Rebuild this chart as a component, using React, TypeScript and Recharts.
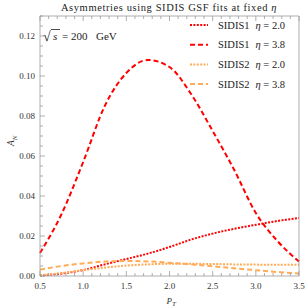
import React from "react";
import { LineChart, Line, XAxis, YAxis } from "recharts";

const pT = [0.5, 0.75, 1.0, 1.25, 1.5, 1.75, 2.0, 2.25, 2.5, 2.75, 3.0, 3.25, 3.5];
const sidis1Eta20 = [0.0003, 0.0012, 0.003, 0.0058, 0.0085, 0.0112, 0.0145, 0.0182, 0.0212, 0.0236, 0.0256, 0.0275, 0.029];
const sidis1Eta38 = [0.0115, 0.031, 0.057, 0.085, 0.1015, 0.108, 0.1045, 0.091, 0.0725, 0.053, 0.0315, 0.0175, 0.0072];
const sidis2Eta20 = [0.0004, 0.0015, 0.0029, 0.0042, 0.0052, 0.0058, 0.0061, 0.0061, 0.006, 0.0058, 0.0057, 0.0056, 0.0056];
const sidis2Eta38 = [0.0032, 0.005, 0.0063, 0.0072, 0.0075, 0.0073, 0.0066, 0.0058, 0.0049, 0.0039, 0.0029, 0.002, 0.0013];

const seriesKeys = ["s1e20", "s1e38", "s2e20", "s2e38"];
const seriesNames = ["SIDIS1", "SIDIS1", "SIDIS2", "SIDIS2"];
const seriesEta = ["2.0", "3.8", "2.0", "3.8"];
const seriesColors = ["#ff0000", "#ff0000", "#ffab57", "#ffab57"];
const seriesDash = ["2 1.4", "5 3", "2 1.4", "5 3"];

const xTicks = Array.from({ length: 31 }, (_, i) => Math.round((0.5 + i * 0.1) * 10) / 10);
const yTicks = Array.from({ length: 27 }, (_, i) => Math.round(i * 5) / 1000);

const title = "Asymmetries using SIDIS GSF fits at fixed ";
const FONT = "'Liberation Serif', 'DejaVu Serif', serif";
const FRAME = "#9a9a9a";

const data = pT.map((p, i) => ({
  p,
  s1e20: sidis1Eta20[i],
  s1e38: sidis1Eta38[i],
  s2e20: sidis2Eta20[i],
  s2e38: sidis2Eta38[i],
}));

const isMajorX = (v: number) => Math.abs(v * 2 - Math.round(v * 2)) < 1e-6;
const isMajorY = (v: number) => Math.abs(v / 0.02 - Math.round(v / 0.02)) < 1e-6;

const BottomTick = (props: any) => {
  const { x, y, payload } = props;
  const v = payload.value;
  const major = isMajorX(v);
  return (
    <g>
      <line x1={x} x2={x} y1={y} y2={y - (major ? 5 : 3)} stroke={FRAME} strokeWidth={0.8} />
      {major && (
        <text x={x} y={y + 12.5} textAnchor="middle" fontSize={9} fontFamily={FONT} fill="#333">
          {v.toFixed(1)}
        </text>
      )}
    </g>
  );
};
const TopTick = (props: any) => {
  const { x, y, payload } = props;
  const major = isMajorX(payload.value);
  return <line x1={x} x2={x} y1={y} y2={y + (major ? 5 : 3)} stroke={FRAME} strokeWidth={0.8} />;
};
const LeftTick = (props: any) => {
  const { x, y, payload } = props;
  const v = payload.value;
  const major = isMajorY(v);
  return (
    <g>
      <line x1={x} x2={x + (major ? 5 : 3)} y1={y} y2={y} stroke={FRAME} strokeWidth={0.8} />
      {major && (
        <text x={x - 5} y={y + 3} textAnchor="end" fontSize={9} fontFamily={FONT} fill="#333">
          {v.toFixed(2)}
        </text>
      )}
    </g>
  );
};
const RightTick = (props: any) => {
  const { x, y, payload } = props;
  const major = isMajorY(payload.value);
  return <line x1={x} x2={x - (major ? 5 : 3)} y1={y} y2={y} stroke={FRAME} strokeWidth={0.8} />;
};

const XLabel = (props: any) => {
  const vb = props.viewBox;
  const cx = vb.x + vb.width / 2;
  return (
    <text x={cx - 3} y={vb.y + 27.5} fontSize={9} fontFamily={FONT} fill="#333" fontStyle="italic">
      P<tspan fontSize={7} dy={2.5} fontStyle="italic">T</tspan>
    </text>
  );
};
const YLabel = (props: any) => {
  const vb = props.viewBox;
  const cy = vb.y + vb.height / 2;
  const x = 10;
  return (
    <text x={x} y={cy + 4} transform={`rotate(-90 ${x} ${cy})`} fontSize={9.5} fontFamily={FONT} fill="#333" fontStyle="italic">
      A<tspan fontSize={7} dy={2.5} fontStyle="italic">N</tspan>
    </text>
  );
};

export default function App() {
  return (
    <div style={{ position: "absolute", left: 0, top: 0, width: 307, height: 308, background: "#fff" }}>
      <LineChart width={307} height={308} data={data} margin={{ top: 15, right: 7, bottom: 0, left: 0 }}>
        <XAxis
          xAxisId="b"
          dataKey="p"
          type="number"
          domain={[0.5, 3.5]}
          ticks={xTicks}
          interval={0}
          height={32}
          tickSize={0}
          tickMargin={0}
          tickLine={false}
          axisLine={{ stroke: FRAME, strokeWidth: 0.8 }}
          tick={<BottomTick />}
          label={{ content: <XLabel /> }}
        />
        <XAxis
          xAxisId="t"
          orientation="top"
          dataKey="p"
          type="number"
          domain={[0.5, 3.5]}
          ticks={xTicks}
          interval={0}
          height={1}
          tickSize={0}
          tickMargin={0}
          tickLine={false}
          axisLine={{ stroke: FRAME, strokeWidth: 0.8 }}
          tick={<TopTick />}
        />
        <YAxis
          yAxisId="l"
          type="number"
          domain={[0, 0.13]}
          ticks={yTicks}
          interval={0}
          width={40}
          tickSize={0}
          tickMargin={0}
          tickLine={false}
          axisLine={{ stroke: FRAME, strokeWidth: 0.8 }}
          tick={<LeftTick />}
          label={{ content: <YLabel /> }}
        />
        <YAxis
          yAxisId="r"
          orientation="right"
          type="number"
          domain={[0, 0.13]}
          ticks={yTicks}
          interval={0}
          width={1}
          tickSize={0}
          tickMargin={0}
          tickLine={false}
          axisLine={{ stroke: FRAME, strokeWidth: 0.8 }}
          tick={<RightTick />}
        />
        {seriesKeys.map((k, i) => (
          <Line
            key={k}
            xAxisId="b"
            yAxisId="l"
            dataKey={k}
            type="monotone"
            stroke={seriesColors[i]}
            strokeWidth={2}
            strokeDasharray={seriesDash[i]}
            dot={false}
            activeDot={false}
            isAnimationActive={false}
          />
        ))}
        <text x={169} y={11} textAnchor="middle" fontSize={10.5} fontFamily={FONT} fill="#222" letterSpacing={0.6}>
          {title}
          <tspan fontStyle="italic">η</tspan>
        </text>
        <g fontFamily={FONT} fill="#222">
          <text x={43} y={41} fontSize={14}>√</text>
          <line x1={51} x2={60} y1={29.5} y2={29.5} stroke="#222" strokeWidth={0.8} />
          <text x={53} y={40} fontSize={11} fontStyle="italic">s</text>
          <text x={62} y={40} fontSize={11}>=</text>
          <text x={71} y={40} fontSize={11}>200</text>
          <text x={96} y={40} fontSize={11}>GeV</text>
        </g>
        {seriesKeys.map((k, i) => {
          const cy = 25 + i * 19.7;
          return (
            <g key={"lg" + k}>
              <line x1={190} x2={208} y1={cy} y2={cy} stroke={seriesColors[i]} strokeWidth={2} strokeDasharray={seriesDash[i]} />
              <text x={218} y={cy + 3.5} fontSize={10.5} fontFamily={FONT} fill="#222">
                {seriesNames[i]}
                <tspan dx={6} fontStyle="italic">η</tspan>
                <tspan> = {seriesEta[i]}</tspan>
              </text>
            </g>
          );
        })}
      </LineChart>
    </div>
  );
}
